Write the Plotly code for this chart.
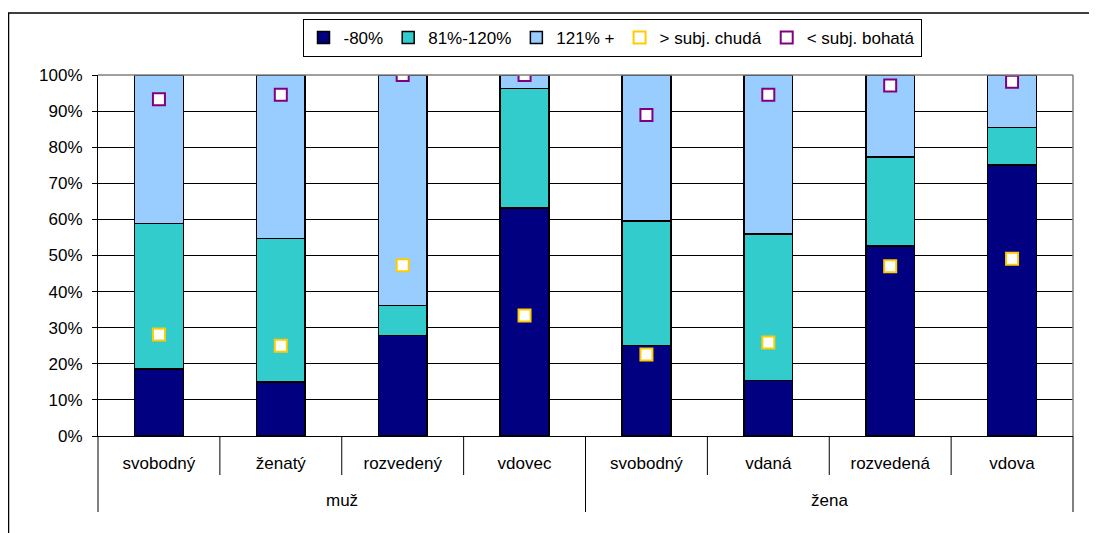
import plotly.graph_objects as go

# Data
groups = ["muž"] * 4 + ["žena"] * 4
statuses = ["svobodný", "ženatý", "rozvedený", "vdovec",
            "svobodný", "vdaná", "rozvedená", "vdova"]

low = [0.185, 0.149, 0.278, 0.632, 0.251, 0.154, 0.527, 0.751]       # -80%
mid = [0.403, 0.398, 0.083, 0.331, 0.344, 0.406, 0.246, 0.103]       # 81%-120%
high = [0.412, 0.453, 0.639, 0.037, 0.405, 0.440, 0.227, 0.146]      # 121% +
subj_poor = [0.281, 0.250, 0.473, 0.334, 0.226, 0.259, 0.470, 0.491]  # > subj. chudá
subj_rich = [0.933, 0.945, 1.000, 1.000, 0.889, 0.945, 0.971, 0.981]  # < subj. bohatá

# unique category keys (status names repeat between groups)
keys = [g + "|" + s for g, s in zip(groups, statuses)]
font = "Arial, Liberation Sans, sans-serif"

fig = go.Figure()
for name, vals, col in [("-80%", low, "#000080"),
                        ("81%-120%", mid, "#33CCCC"),
                        ("121% +", high, "#99CCFF")]:
    fig.add_trace(go.Bar(x=keys, y=vals, name=name, width=0.4,
                         marker=dict(color=col, line=dict(color="black", width=1.5))))

for name, vals, col in [("> subj. chudá", subj_poor, "#FFCC00"),
                        ("< subj. bohatá", subj_rich, "#800080")]:
    fig.add_trace(go.Scatter(x=keys, y=vals, name=name, mode="markers",
                             marker=dict(symbol="square", size=12, color="white",
                                         line=dict(color=col, width=2))))

# separators below the axis (Excel style)
n = len(statuses)
shapes = []
for i in range(n + 1):
    depth = -76 / 361 if i % 4 == 0 else -39 / 361
    shapes.append(dict(type="line", xref="paper", yref="paper", x0=i / n, x1=i / n,
                       y0=0, y1=depth, line=dict(color="black", width=1)))
# plot area border (gray) and outer chart frame
shapes.append(dict(type="line", xref="paper", yref="paper", x0=0, x1=1, y0=1, y1=1,
                   line=dict(color="#808080", width=1.5)))
shapes.append(dict(type="line", xref="paper", yref="paper", x0=1, x1=1, y0=0, y1=1,
                   line=dict(color="#808080", width=1.5)))
shapes.append(dict(type="rect", xref="paper", yref="paper", x0=-89.5 / 975, x1=1.06,
                   y0=-0.4, y1=423 / 361, line=dict(color="black", width=1.5)))

# group labels
annotations = []
for gi, g in enumerate(["muž", "žena"]):
    annotations.append(dict(text=g, xref="paper", yref="paper", x=0.25 + 0.5 * gi,
                            y=-64.7 / 361, xanchor="center", yanchor="middle",
                            showarrow=False, font=dict(size=17)))

fig.update_layout(
    width=1089, height=525,
    margin=dict(l=90, r=24, t=67, b=97, autoexpand=False),
    plot_bgcolor="white", paper_bgcolor="white",
    barmode="stack",
    font=dict(family=font, size=17, color="black"),
    showlegend=True,
    legend=dict(orientation="h", xref="container", yref="container",
                x=604 / 1089, xanchor="center", y=1 - 11 / 525, yanchor="top",
                bordercolor="black", borderwidth=1, traceorder="normal",
                font=dict(size=17), itemwidth=30, bgcolor="white"),
    shapes=shapes,
    annotations=annotations,
)
fig.update_xaxes(type="category", tickvals=keys, ticktext=statuses, showline=True,
                 linecolor="black", linewidth=1, ticks="", ticklabelstandoff=12,
                 tickfont=dict(size=17), automargin=False)
fig.update_yaxes(range=[0, 1], dtick=0.1, tickformat=".0%", showgrid=True,
                 gridcolor="black", gridwidth=1, showline=True, linecolor="black",
                 linewidth=1, ticks="outside", ticklen=5, tickcolor="black",
                 ticklabelstandoff=6, zeroline=False, tickfont=dict(size=17),
                 automargin=False)

fig.write_html("out.html")
